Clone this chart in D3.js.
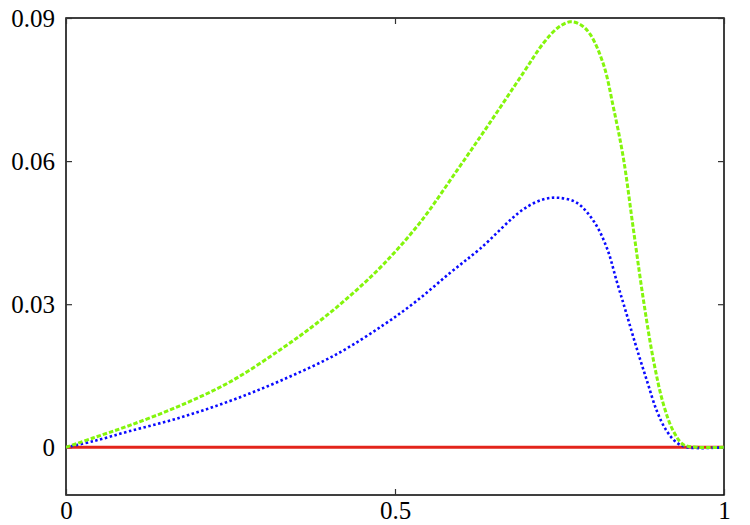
<!DOCTYPE html>
<html><head><meta charset="utf-8">
<script src="https://cdn.jsdelivr.net/npm/d3@7"></script>
<style>body{margin:0;background:#fff}svg{display:block}</style>
</head><body>
<svg id="c" width="750" height="525"></svg>
<script>
const xTicks = [0, 0.5, 1];
const xTickLabels = ["0", "0.5", "1"];
const yTicks = [0, 0.03, 0.06, 0.09];
const yTickLabels = ["0", "0.03", "0.06", "0.09"];

const greenX = [0, 0.042, 0.097, 0.173, 0.249, 0.325, 0.381, 0.432, 0.482, 0.538, 0.594, 0.644, 0.695, 0.726, 0.748, 0.766, 0.782, 0.797, 0.817, 0.832, 0.847, 0.862, 0.877, 0.893, 0.908, 0.923, 0.938, 0.96, 1];
const greenY = [0, 0.0020, 0.0046, 0.0087, 0.0137, 0.0204, 0.0260, 0.0318, 0.0383, 0.0471, 0.0580, 0.0680, 0.0785, 0.0848, 0.0880, 0.0892, 0.0886, 0.0865, 0.0802, 0.0712, 0.0607, 0.0460, 0.0314, 0.0181, 0.0090, 0.0034, 0.0006, 0, 0];

const blueX = [0, 0.042, 0.097, 0.173, 0.249, 0.325, 0.411, 0.482, 0.533, 0.584, 0.629, 0.695, 0.726, 0.749, 0.776, 0.802, 0.822, 0.837, 0.852, 0.867, 0.883, 0.898, 0.913, 0.928, 0.944, 1];
const blueY = [0, 0.0013, 0.0034, 0.0062, 0.0097, 0.0139, 0.0195, 0.0256, 0.0307, 0.0366, 0.0416, 0.0499, 0.0520, 0.0523, 0.0513, 0.0474, 0.0418, 0.0348, 0.0279, 0.0209, 0.0139, 0.0076, 0.0034, 0.0010, 0, 0];

const redX = [0, 1];
const redY = [0, 0];

const svg = d3.select("#c");
const L = 66, R = 724, T = 18, B = 495;
const x = d3.scaleLinear().domain([0, 1]).range([L, R]);
const y = d3.scaleLinear().domain([-0.01, 0.09]).range([B, T]);

svg.append("rect").attr("x", L).attr("y", T).attr("width", R - L).attr("height", B - T)
  .attr("fill", "none").attr("stroke", "#000").attr("stroke-width", 1.5);

const axB = d3.axisBottom(x).tickValues(xTicks).tickSize(-6).tickFormat((d, i) => xTickLabels[i]);
const axT = d3.axisTop(x).tickValues(xTicks).tickSize(-6).tickFormat("");
const axL = d3.axisLeft(y).tickValues(yTicks).tickSize(-6).tickFormat((d, i) => yTickLabels[i]);
const axR = d3.axisRight(y).tickValues(yTicks).tickSize(-6).tickFormat("");

function style(g) {
  g.select(".domain").remove();
  g.selectAll(".tick line").attr("stroke", "#333").attr("stroke-width", 1.2);
  g.selectAll("text")
    .style("font-family", '"Liberation Serif"')
    .style("font-size", "25px")
    .style("fill", "#000");
}
svg.append("g").attr("transform", `translate(0,${B})`).call(axB).call(style)
  .selectAll("text").attr("dy", "0").attr("y", 24);
svg.append("g").attr("transform", `translate(0,${T})`).call(axT).call(style);
svg.append("g").attr("transform", `translate(${L},0)`).call(axL).call(style)
  .selectAll("text").attr("x", -11).attr("dy", "0.33em");
svg.append("g").attr("transform", `translate(${R},0)`).call(axR).call(style);

svg.append("clipPath").attr("id", "pc").append("rect")
  .attr("x", L).attr("y", T).attr("width", R - L).attr("height", B - T);

function draw(xs, ys, color, w, dash, curve) {
  const data = xs.map((v, i) => [v, ys[i]]);
  svg.append("path").datum(data)
    .attr("clip-path", "url(#pc)")
    .attr("d", d3.line().x(d => x(d[0])).y(d => y(d[1])).curve(curve))
    .attr("fill", "none").attr("stroke", color).attr("stroke-width", w)
    .attr("stroke-dasharray", dash);
}
draw(redX, redY, "#e3241b", 3, null, d3.curveLinear);
draw(blueX, blueY, "#0a0aff", 2.6, "2.5,2.5", d3.curveCatmullRom.alpha(0.5));
draw(greenX, greenY, "#84f50c", 3, "4.5,2", d3.curveCatmullRom.alpha(0.5));
</script>
</body></html>
